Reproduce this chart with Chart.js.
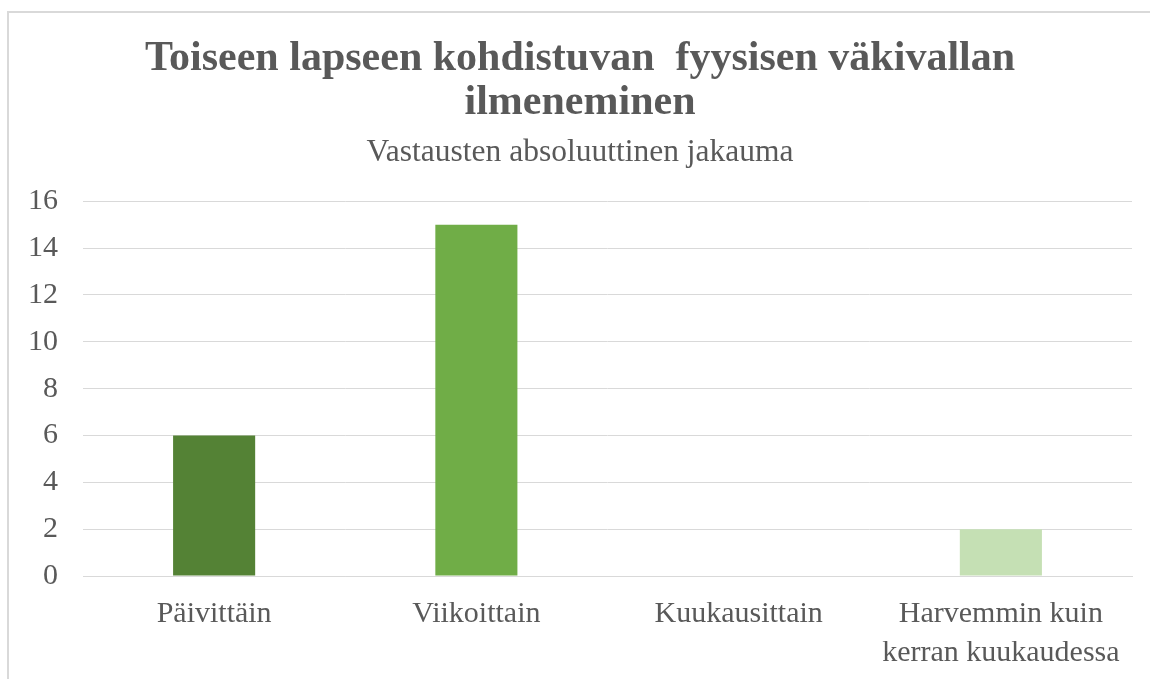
<!DOCTYPE html>
<html>
<head>
<meta charset="utf-8">
<script src="https://cdn.jsdelivr.net/npm/chart.js@4.4.1/dist/chart.umd.min.js"></script>
<style>
  body { margin: 0; background: #fff; }
  #wrap { position: relative; width: 1150px; height: 679px; overflow: hidden; }
  #frame { position: absolute; left: 7px; top: 11px; width: 1200px; height: 700px; border: 2px solid #d9d9d9; box-sizing: border-box; }
  canvas { position: absolute; left: 0; top: 0; }
</style>
</head>
<body>
<div id="wrap">
  <div id="frame"></div>
  <canvas id="chart" width="1150" height="679"></canvas>
</div>
<script>
// chart data
const categories = ["Päivittäin", "Viikoittain", "Kuukausittain", ["Harvemmin kuin", "kerran kuukaudessa"]];
const values = [6, 15, 0, 2];
const barColors = ["#548235", "#70ad47", "#a9d18e", "#c5e0b4"];
const yTicks = [0, 2, 4, 6, 8, 10, 12, 14, 16];

const titleLines = ["Toiseen lapseen kohdistuvan  fyysisen väkivallan", "ilmeneminen"];
const subtitleText = "Vastausten absoluuttinen jakauma";

const serif = "'Liberation Serif', 'Times New Roman', serif";
const grey = "#595959";

const ctx = document.getElementById("chart").getContext("2d");
new Chart(ctx, {
  type: "bar",
  data: {
    labels: categories,
    datasets: [{
      data: values,
      backgroundColor: barColors,
      barPercentage: 0.626,
      categoryPercentage: 0.5
    }]
  },
  options: {
    responsive: false,
    animation: false,
    layout: { padding: { top: 38, left: 28, right: 18, bottom: 10 } },
    plugins: {
      legend: { display: false },
      tooltip: { enabled: false },
      title: {
        display: true,
        text: titleLines,
        color: grey,
        font: { family: serif, size: 42, weight: "bold", lineHeight: 1.03 },
        padding: { top: 0, bottom: 0 }
      },
      subtitle: {
        display: true,
        text: subtitleText,
        color: grey,
        font: { family: serif, size: 31.5, lineHeight: 1.2 },
        padding: { top: 9, bottom: 30 }
      }
    },
    scales: {
      x: {
        grid: { display: false, drawTicks: false },
        border: { color: "#d9d9d9" },
        afterFit: a => { a.paddingLeft = 0; a.paddingRight = 0; a.height = 93; },
        ticks: {
          color: grey,
          font: { family: serif, size: 30, lineHeight: 1.3 },
          padding: 19,
          maxRotation: 0,
          autoSkip: false
        }
      },
      y: {
        min: 0,
        max: 16,
        afterBuildTicks: axis => { axis.ticks = yTicks.map(v => ({ value: v })); },
        afterFit: a => { a.width = 55; },
        grid: { color: "#d9d9d9", drawTicks: false },
        border: { display: false },
        ticks: {
          color: grey,
          font: { family: serif, size: 30 },
          padding: 25
        }
      }
    }
  }
});
</script>
</body>
</html>
